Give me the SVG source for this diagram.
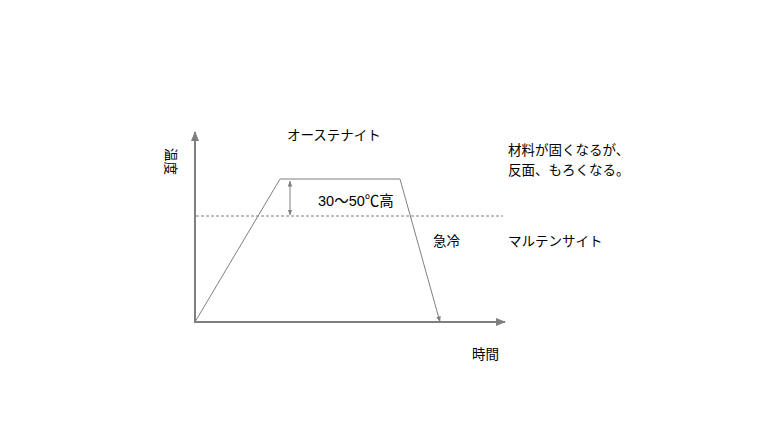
<svg xmlns="http://www.w3.org/2000/svg" width="768" height="432" viewBox="0 0 768 432">
<style>
text{font-family:"Liberation Sans","Noto Sans CJK JP",sans-serif;font-size:13.5px;fill:#000}
.ax{stroke:#7f7f7f;stroke-width:2;fill:none}
.ln{stroke:#7f7f7f;stroke-width:1;fill:none}
.ds{stroke:#7f7f7f;stroke-width:1;stroke-dasharray:3,2;fill:none}
</style>
<defs>
<marker id="big" markerWidth="5" markerHeight="5" refX="4.5" refY="2.5" orient="auto" markerUnits="strokeWidth">
<path d="M0,0.5 L5,2.5 L0,4.5 Z" fill="#7f7f7f"/>
</marker>
<marker id="sm" markerWidth="6" markerHeight="6" refX="5.5" refY="3" orient="auto" markerUnits="strokeWidth">
<path d="M0,0.8 L6,3 L0,5.2 Z" fill="#7f7f7f"/>
</marker>
<marker id="sms" markerWidth="6" markerHeight="6" refX="0.5" refY="3" orient="auto" markerUnits="strokeWidth">
<path d="M6,0.8 L0,3 L6,5.2 Z" fill="#7f7f7f"/>
</marker>
</defs>
<rect width="768" height="432" fill="#fff"/>
<g id="connectors">
<line class="ax" x1="195" y1="323" x2="195" y2="132" marker-end="url(#big)"/>
<line class="ax" x1="194" y1="322" x2="505" y2="322" marker-end="url(#big)"/>
<polyline class="ln" points="195,322 280,179 400,179 440,322" marker-end="url(#sm)"/>
<line class="ds" x1="196" y1="216" x2="503" y2="216"/>
<line class="ln" x1="290" y1="181" x2="290" y2="215" marker-start="url(#sms)" marker-end="url(#sm)"/>
</g>
<g id="label-temp"><text transform="translate(166,148) rotate(90)">温度</text></g>
<g id="label-austenite"><text x="287" y="140">オーステナイト</text></g>
<g id="label-diff"><text x="318" y="206" style="font-size:14.5px">30〜50℃高</text></g>
<g id="label-quench"><text x="433" y="246">急冷</text></g>
<g id="label-martensite"><text x="508" y="246">マルテンサイト</text></g>
<g id="label-note"><text x="508" y="155">材料が固くなるが、</text><text x="508" y="175">反面、もろくなる。</text></g>
<g id="label-time"><text x="472" y="359">時間</text></g>
</svg>
